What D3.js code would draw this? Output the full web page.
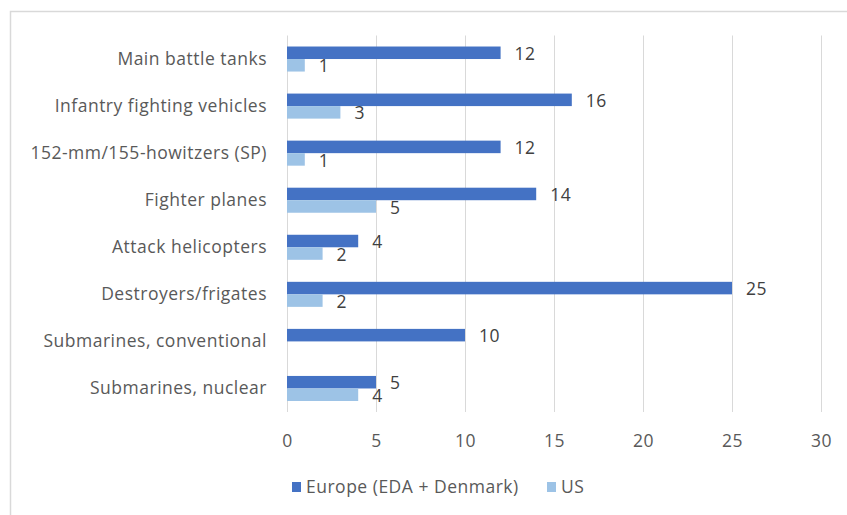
<!DOCTYPE html>
<html>
<head>
<meta charset="utf-8">
<script src="https://cdn.jsdelivr.net/npm/d3@7"></script>
<style>
  body { margin: 0; background: #fff; }
  text { font-family: 'Open Sans', sans-serif; letter-spacing: 0.5px; }
</style>
</head>
<body>
<script>
var width = 847, height = 515;

// data
var categories = ['Main battle tanks', 'Infantry fighting vehicles', '152-mm/155-howitzers (SP)',
    'Fighter planes', 'Attack helicopters', 'Destroyers/frigates',
    'Submarines, conventional', 'Submarines, nuclear'];
var europe = [12, 16, 12, 14, 4, 25, 10, 5];
var us = [1, 3, 1, 5, 2, 2, null, 4];
var seriesNames = ['Europe (EDA + Denmark)', 'US'];
var xTicks = [0, 5, 10, 15, 20, 25, 30];

var colors = ['#4472C4', '#9DC3E6'];
var font = "'Open Sans', sans-serif";

var svg = d3.select('body')
    .append('svg')
    .attr('width', width)
    .attr('height', height);

// frame (only top and left edges visible in the crop)
svg.append('path')
    .attr('d', 'M10.5,' + height + 'V11.5H' + width)
    .attr('fill', 'none')
    .attr('stroke', '#d9d9d9')
    .attr('stroke-width', 1.5);

//scales
var xScale = d3.scaleLinear()
    .domain([0, 30])
    .range([287, 821]);

var yScale = d3.scaleBand()
    .domain(categories)
    .range([35.5, 412])
    .paddingInner(0.468)
    .paddingOuter(0.234);

var subScale = d3.scaleBand()
    .domain([0, 1])
    .range([0, yScale.bandwidth()]);

//gridlines
svg.append('g')
    .selectAll('line')
    .data(xTicks)
    .join('line')
    .attr('x1', d => Math.round(xScale(d)) + 0.5)
    .attr('x2', d => Math.round(xScale(d)) + 0.5)
    .attr('y1', 35.5)
    .attr('y2', 412)
    .attr('stroke', '#d9d9d9')
    .attr('stroke-width', 1);

//x axis labels
var xAxis = svg.append('g')
    .attr('transform', 'translate(0,' + 441 + ')')
    .call(d3.axisBottom(xScale).tickValues(xTicks).tickSize(0).tickPadding(0));
xAxis.select('.domain').remove();
xAxis.selectAll('text')
    .attr('dy', '0.35em')
    .attr('font-size', 17.5)
    .attr('fill', '#595959')
    .style('font-family', font);

//y axis labels
var yAxis = svg.append('g')
    .attr('transform', 'translate(267,0)')
    .call(d3.axisLeft(yScale).tickSize(0).tickPadding(0));
yAxis.select('.domain').remove();
yAxis.selectAll('text')
    .attr('font-size', 17.5)
    .attr('fill', '#595959')
    .style('font-family', font);

//bars
var series = [europe, us];
series.forEach(function(vals, s) {
    var rows = categories.map((c, i) => ({cat: c, v: vals[i]})).filter(d => d.v != null);

    svg.append('g')
        .selectAll('rect')
        .data(rows)
        .join('rect')
        .attr('x', xScale(0))
        .attr('y', d => yScale(d.cat) + subScale(s))
        .attr('width', d => xScale(d.v) - xScale(0))
        .attr('height', subScale.bandwidth())
        .attr('fill', colors[s]);

    svg.append('g')
        .selectAll('text')
        .data(rows)
        .join('text')
        .text(d => d.v)
        .attr('x', d => xScale(d.v) + 14)
        .attr('y', d => yScale(d.cat) + subScale(s) + subScale.bandwidth() / 2 + 1)
        .attr('dy', '0.35em')
        .attr('font-size', 17.5)
        .attr('fill', '#404040');
});

//legend
var legendX = [292, 547];
var legend = svg.append('g');
seriesNames.forEach(function(name, s) {
    legend.append('rect')
        .attr('x', legendX[s])
        .attr('y', 482)
        .attr('width', 9)
        .attr('height', 10)
        .attr('fill', colors[s]);
    legend.append('text')
        .text(name)
        .attr('x', legendX[s] + 14)
        .attr('y', 487)
        .attr('dy', '0.35em')
        .attr('font-size', 17.5)
        .attr('fill', '#595959');
});
</script>
</body>
</html>
